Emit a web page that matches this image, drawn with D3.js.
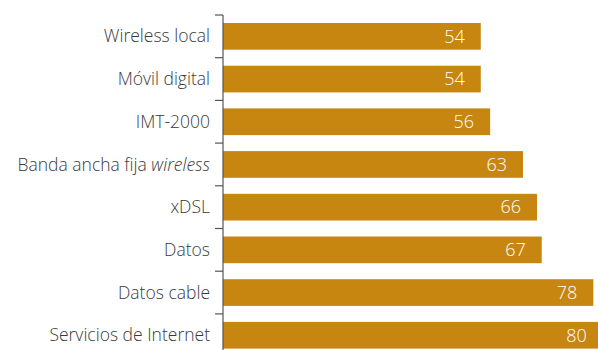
<!DOCTYPE html>
<html>
<head>
<meta charset="utf-8">
<script src="https://cdn.jsdelivr.net/npm/d3@7"></script>
<style>
  html, body { margin: 0; padding: 0; background: #fff; }
  svg { display: block; }
</style>
</head>
<body>
<svg id="chart" width="598" height="350"></svg>
<script>
// Services ranked by share (%)
const categories = [
  "Wireless local",
  "Móvil digital",
  "IMT-2000",
  "Banda ancha fija wireless",
  "xDSL",
  "Datos",
  "Datos cable",
  "Servicios de Internet"
];
const values = [54, 54, 56, 63, 66, 67, 78, 80];

const width = 598, height = 350;
const axisX = 223;
const barColor = "#c6860f";
const textColor = "#3a3a3a";
const font = "'Open Sans', sans-serif";

const svg = d3.select("#chart");

const x = d3.scaleLinear().domain([0, 80]).range([227.5, 602.7]);
const y = d3.scaleBand()
  .domain(categories)
  .range([15, 15 + 42.7 * categories.length])
  .paddingInner(0.375)
  .paddingOuter(0.1875);

// Bars
svg.append("g").selectAll("rect")
  .data(categories)
  .join("rect")
  .attr("x", axisX)
  .attr("y", d => y(d))
  .attr("width", (d, i) => x(values[i]) - axisX)
  .attr("height", y.bandwidth())
  .attr("fill", barColor);

// Value labels inside bars
svg.append("g").selectAll("text")
  .data(categories)
  .join("text")
  .attr("x", (d, i) => x(values[i]) - 16)
  .attr("y", d => y(d) + y.bandwidth() / 2)
  .attr("dy", "0.35em")
  .attr("text-anchor", "end")
  .attr("fill", "#fff")
  .style("font-family", font)
  .style("font-weight", 350)
  .style("font-size", "18px")
  .text((d, i) => values[i]);

// Category axis with ticks at band boundaries
const axisG = svg.append("g");
axisG.append("line")
  .attr("x1", axisX).attr("x2", axisX)
  .attr("y1", y.range()[0]).attr("y2", y.range()[1])
  .attr("stroke", "#555").attr("stroke-width", 1.2);
const bounds = d3.range(categories.length + 1).map(i => y.range()[0] + i * y.step());
axisG.selectAll("line.tick")
  .data(bounds)
  .join("line")
  .attr("class", "tick")
  .attr("x1", axisX - 8).attr("x2", axisX)
  .attr("y1", d => d).attr("y2", d => d)
  .attr("stroke", "#555").attr("stroke-width", 1.2);

// Category labels (the "wireless" word set in italics)
const labels = svg.append("g").selectAll("text")
  .data(categories)
  .join("text")
  .attr("x", axisX - 13)
  .attr("y", d => y(d) + y.bandwidth() / 2)
  .attr("dy", "0.35em")
  .attr("text-anchor", "end")
  .attr("fill", textColor)
  .style("font-family", font)
  .style("font-weight", 350)
  .style("font-size", "17.5px");

labels.each(function(d) {
  const t = d3.select(this);
  const m = d.match(/^(.*)( wireless)$/);
  if (m) {
    t.append("tspan").text(m[1] + " ");
    t.append("tspan").style("font-style", "italic").text("wireless");
  } else {
    t.text(d);
  }
});
</script>
</body>
</html>
